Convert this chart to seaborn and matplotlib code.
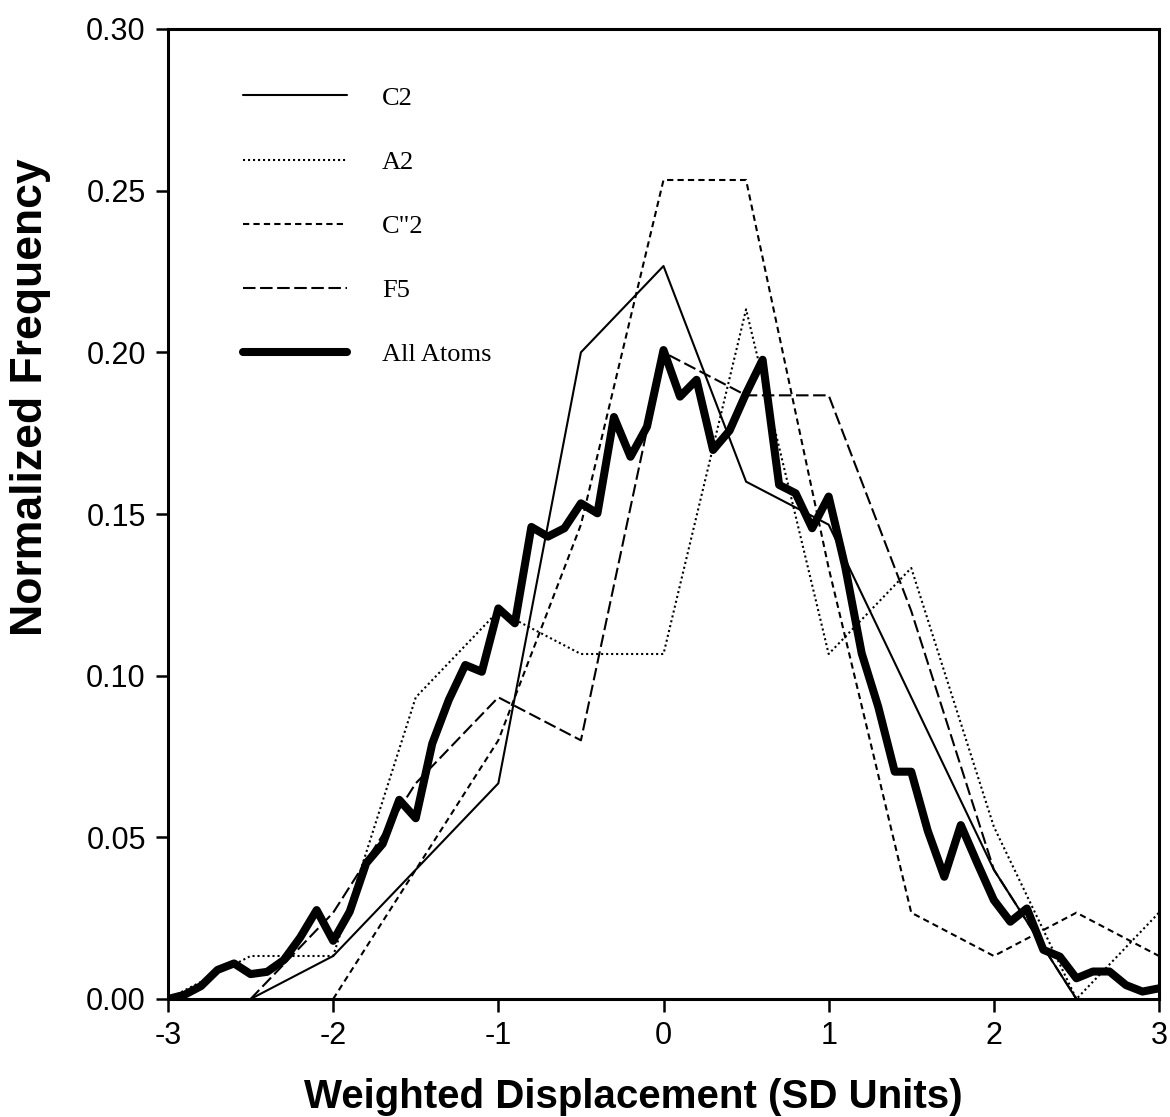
"""
Normalized frequency of weighted displacement
(C2, A2, C"2, F5 and all atoms)
"""

# ----------------------------------------------------
# Import Libraries
# ----------------------------------------------------

import pandas as pd
import matplotlib
matplotlib.use("Agg")
import matplotlib.pyplot as plt
import seaborn as sns

# ----------------------------------------------------
# Data
# ----------------------------------------------------

c2_x = [-2.5, -2.0, -1.5, -1.0, -0.5, 0.0, 0.5, 1.0, 1.5, 2.0, 2.5]
c2_y = [0.0, 0.0133, 0.04, 0.0667, 0.20, 0.2267, 0.16, 0.1467, 0.0933, 0.04, 0.0]

a2_x = [-3.0, -2.5, -2.0, -1.5, -1.0, -0.5, 0.0, 0.5, 1.0, 1.5, 2.0, 2.5, 3.0]
a2_y = [0.0, 0.0133, 0.0133, 0.0933, 0.12, 0.1067, 0.1067, 0.2133, 0.1067,
        0.1333, 0.0533, 0.0, 0.0267]

cpp2_x = [-2.0, -1.5, -1.0, -0.5, 0.0, 0.5, 1.0, 1.5, 2.0, 2.5, 3.0]
cpp2_y = [0.0, 0.04, 0.08, 0.1467, 0.2533, 0.2533, 0.1333, 0.0267, 0.0133,
          0.0267, 0.0133]

f5_x = [-2.5, -2.0, -1.5, -1.0, -0.5, 0.0, 0.5, 1.0, 1.5, 2.0, 2.5]
f5_y = [0.0, 0.0267, 0.0667, 0.0933, 0.08, 0.20, 0.1867, 0.1867, 0.12, 0.04, 0.0]

all_x = [-3.0, -2.9, -2.8, -2.7, -2.6, -2.5, -2.4, -2.3, -2.2, -2.1,
         -2.0, -1.9, -1.8, -1.7, -1.6, -1.5, -1.4, -1.3, -1.2, -1.1,
         -1.0, -0.9, -0.8, -0.7, -0.6, -0.5, -0.4, -0.3, -0.2, -0.1,
         0.0, 0.1, 0.2, 0.3, 0.4, 0.5, 0.6, 0.7, 0.8, 0.9,
         1.0, 1.1, 1.2, 1.3, 1.4, 1.5, 1.6, 1.7, 1.8, 1.9,
         2.0, 2.1, 2.2, 2.3, 2.4, 2.5, 2.6, 2.7, 2.8, 2.9, 3.0]
all_y = [0.0, 0.0013, 0.004, 0.009, 0.011, 0.0077, 0.0084, 0.012, 0.019, 0.0275,
         0.018, 0.027, 0.042, 0.048, 0.0616, 0.0559, 0.079, 0.0925, 0.1033, 0.1012,
         0.1208, 0.1162, 0.146, 0.143, 0.1456, 0.1533, 0.1502, 0.180, 0.1677, 0.177,
         0.2007, 0.1863, 0.1915, 0.1698, 0.1758, 0.1873, 0.1977, 0.159, 0.1564, 0.1456,
         0.1554, 0.1337, 0.1069, 0.0904, 0.0703, 0.0703, 0.052, 0.0378, 0.0538, 0.042,
         0.0306, 0.0239, 0.028, 0.0152, 0.0131, 0.0064, 0.0085, 0.0085, 0.0043, 0.0023,
         0.0033]

x_ticks = [-3, -2, -1, 0, 1, 2, 3]
y_ticks = [0.00, 0.05, 0.10, 0.15, 0.20, 0.25, 0.30]

# ----------------------------------------------------
# Style
# ----------------------------------------------------

sns.set_style("ticks")
plt.rcParams["font.family"] = ["Liberation Sans", "DejaVu Sans"]
plt.rcParams["axes.unicode_minus"] = False
plt.rcParams["text.color"] = "black"
plt.rcParams["axes.labelcolor"] = "black"

series = [
    ("C2", c2_x, c2_y, "-", 1.5),
    ("A2", a2_x, a2_y, (0, (1, 1.4)), 1.5),
    ('C"2', cpp2_x, cpp2_y, (0, (3, 2)), 1.5),
    ("F5", f5_x, f5_y, (0, (6, 2.2)), 1.5),
    ("All Atoms", all_x, all_y, "-", 5.8),
]

# ----------------------------------------------------
# Plot
# ----------------------------------------------------

fig = plt.figure(figsize=(11.70, 11.17), dpi=100)
ax = fig.add_axes([168 / 1170, 1 - 999 / 1117, 991 / 1170, 970 / 1117])

for name, xs, ys, ls, lw in series:
    df = pd.DataFrame({"x": xs, "y": ys})
    sns.lineplot(
        data=df,
        x="x",
        y="y",
        ax=ax,
        color="black",
        linestyle=ls,
        linewidth=lw,
        label=name,
        sort=False,
        errorbar=None
    )

ax.set_xlim(-3, 3)
ax.set_ylim(0, 0.30)
ax.set_xticks(x_ticks)
ax.set_yticks(y_ticks)
ax.set_xticklabels([str(t) for t in x_ticks])
ax.set_yticklabels([f"{t:.2f}" for t in y_ticks])

ax.tick_params(direction="out", length=9, width=1.8, labelsize=22,
               pad=7, colors="black")

for sp in ax.spines.values():
    sp.set_linewidth(2.2)
    sp.set_color("black")

ax.set_xlabel("Weighted Displacement (SD Units)", fontsize=29,
              fontweight="bold")
ax.xaxis.label.set_va("baseline")
ax.xaxis.set_label_coords(0.470, -0.112)

ax.set_ylabel("Normalized Frequency", fontsize=32, fontweight="bold")
ax.yaxis.set_label_coords(-0.118, 0.62)

leg = ax.legend(
    loc="upper left",
    bbox_to_anchor=(0.0757, 0.941),
    frameon=False,
    borderpad=0,
    borderaxespad=0,
    handlelength=3.94,
    handletextpad=1.33,
    labelspacing=1.54,
    prop={"family": "Liberation Serif", "size": 19}
)

fig.savefig("out.png", dpi=100, facecolor="white")
